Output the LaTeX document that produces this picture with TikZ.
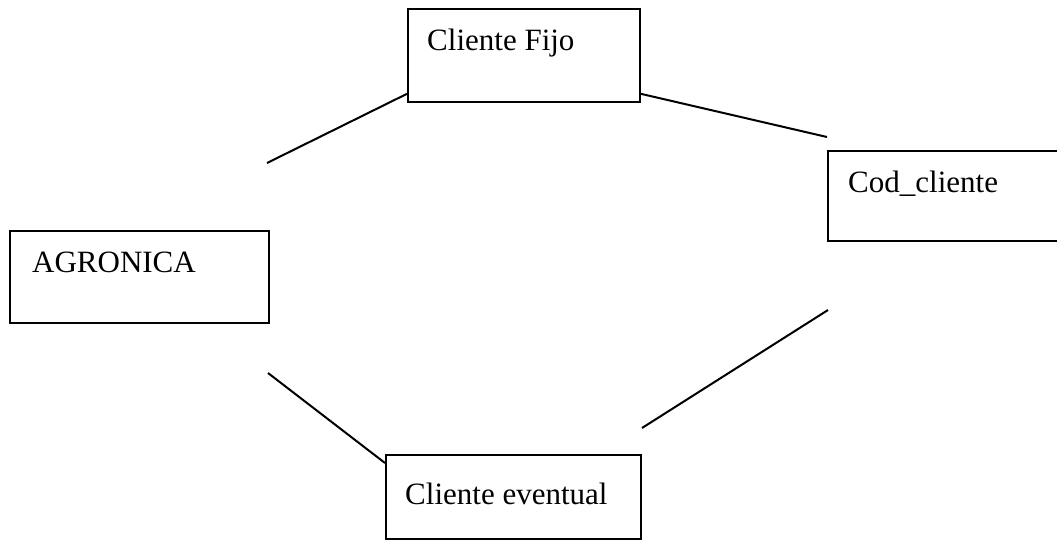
\documentclass[tikz,border=0pt]{standalone}
\usepackage{fontspec}
\setmainfont{Liberation Serif}
\begin{document}
\begin{tikzpicture}[x=1pt,y=-1pt,
  box/.style={draw, line width=1.8pt, inner sep=0pt, anchor=north west},
  lbl/.style={anchor=base west, inner sep=0pt, font=\fontsize{31}{36}\selectfont},
  link/.style={line width=2pt}]
\useasboundingbox (0,0) rectangle (1057,550);
% boxes
\node[box, minimum width=259pt, minimum height=92pt] (agro) at (9,230) {};
\node[box, minimum width=232pt, minimum height=93pt] (fijo) at (407,8) {};
\node[box, minimum width=250pt, minimum height=90pt] (cod) at (827,150) {};
\node[box, minimum width=255pt, minimum height=84pt] (ev) at (385,454) {};
% labels
\node[lbl] (agrot) at (32,272) {AGRONICA};
\node[lbl] (fijot) at (427,50) {Cliente Fijo};
\node[lbl] (codt) at (848,192) {Cod\_cliente};
\node[lbl] (evt) at (405,504) {Cliente eventual};
% connector ends
\coordinate (a1) at (267,163);
\coordinate (f1) at ([yshift=9pt]fijo.south west);
\coordinate (f2) at ([yshift=9pt]fijo.south east);
\coordinate (c1) at ([yshift=13pt]cod.north west);
\coordinate (c2) at (828,310);
\coordinate (e2) at (642,428);
\coordinate (a2) at (268,373);
\coordinate (e1) at ([yshift=-9pt]ev.north west);
% connectors
\draw[link] (a1) -- (f1);
\draw[link] (f2) -- (c1);
\draw[link] (c2) -- (e2);
\draw[link] (a2) -- (e1);
\end{tikzpicture}
\end{document}
